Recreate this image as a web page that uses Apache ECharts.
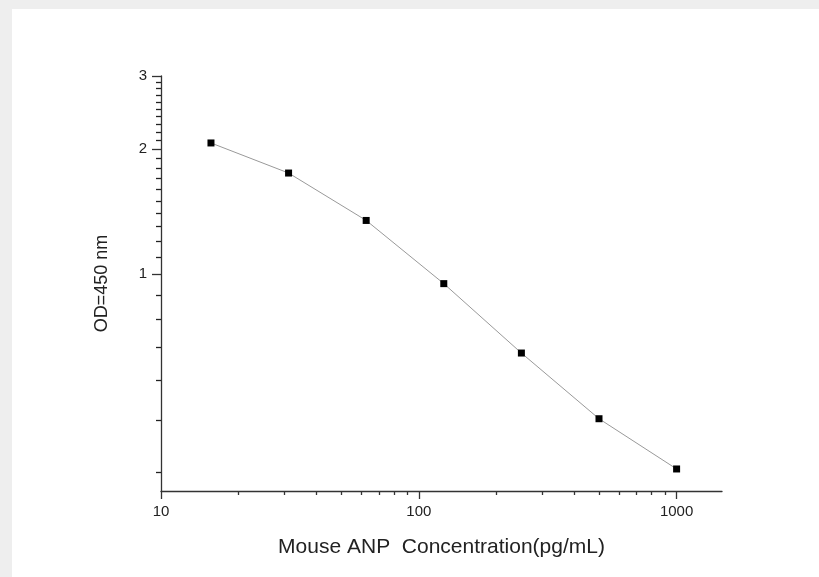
<!DOCTYPE html>
<html>
<head>
<meta charset="utf-8">
<script src="https://cdn.jsdelivr.net/npm/echarts@6/dist/echarts.min.js"></script>
<style>
  body { margin: 0; background: #eeeeee; }
  #panel { position: absolute; left: 12px; top: 9px; width: 807px; height: 568px; background: #ffffff; }
  #myChart { position: absolute; left: 0; top: 0; width: 819px; height: 577px; }
</style>
</head>
<body>
<div id="panel"></div>
<div id="myChart"></div>
<script>
// standard curve data
var concentration = [15.625, 31.25, 62.5, 125, 250, 500, 1000];
var od450 = [2.069, 1.751, 1.346, 0.948, 0.645, 0.448, 0.339];

// tick positions
var xMajor = [10, 100, 1000];
var xMinor = [20, 30, 40, 50, 60, 70, 80, 90, 200, 300, 400, 500, 600, 700, 800, 900];
var yMajor = [1, 2, 3];
var yMinor = [0.333, 0.444, 0.556, 0.667, 0.778, 0.889,
  1.1, 1.2, 1.3, 1.4, 1.5, 1.6, 1.7, 1.8, 1.9,
  2.1, 2.2, 2.3, 2.4, 2.5, 2.6, 2.7, 2.8, 2.9];

var points = concentration.map(function (c, i) { return [c, od450[i]]; });

var font = 'Liberation Sans, Arial, sans-serif';
var lineStyle = { color: '#333', width: 1.3 };

let myChart = echarts.init(document.getElementById('myChart'));
myChart.setOption({
  animation: false,
  grid: { left: 161, top: 76, width: 561, height: 415 },
  xAxis: [{
    type: 'log', logBase: 10, min: 10, max: 1500,
    name: 'Mouse ANP  Concentration(pg/mL)',
    nameLocation: 'middle', nameGap: 46,
    nameTextStyle: { fontFamily: font, fontSize: 21, color: '#222' },
    axisLine: { show: true, onZero: false, lineStyle: lineStyle },
    axisTick: { show: true, interval: 0, length: 8, lineStyle: lineStyle, customValues: xMajor },
    axisLabel: {
      margin: 13, fontFamily: font, fontSize: 15, color: '#222', customValues: xMajor,
      formatter: function (v) { return String(v); }
    },
    splitLine: { show: false }
  }, {
    type: 'log', logBase: 10, min: 10, max: 1500, position: 'bottom',
    axisLine: { show: false },
    axisTick: { show: true, interval: 0, length: 4, lineStyle: lineStyle, customValues: xMinor },
    axisLabel: { show: false },
    splitLine: { show: false }
  }],
  yAxis: [{
    type: 'log', logBase: 10, min: 0.3, max: 3,
    name: 'OD=450 nm',
    nameLocation: 'middle', nameGap: 50,
    nameTextStyle: { fontFamily: font, fontSize: 18, color: '#222' },
    axisLine: { show: true, onZero: false, lineStyle: lineStyle },
    axisTick: { show: true, interval: 0, length: 9, lineStyle: lineStyle, customValues: yMajor },
    axisLabel: {
      margin: 14, fontFamily: font, fontSize: 15, color: '#222', customValues: yMajor,
      formatter: function (v) { return String(v); }
    },
    splitLine: { show: false }
  }, {
    type: 'log', logBase: 10, min: 0.3, max: 3, position: 'left',
    axisLine: { show: false },
    axisTick: { show: true, interval: 0, length: 5, lineStyle: { color: '#222', width: 1.3 }, customValues: yMinor },
    axisLabel: { show: false },
    splitLine: { show: false }
  }],
  series: [{
    type: 'line',
    data: points,
    symbol: 'rect',
    symbolSize: 7,
    itemStyle: { color: '#000' },
    lineStyle: { color: '#999', width: 1 }
  }]
});
</script>
</body>
</html>
